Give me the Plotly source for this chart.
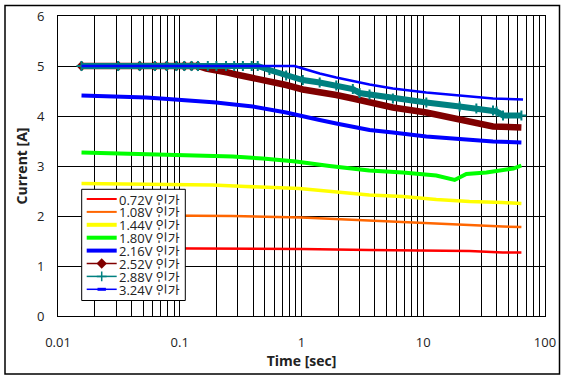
import plotly.graph_objects as go

# ---------------- data ----------------
series_names = ["0.72V 인가", "1.08V 인가", "1.44V 인가", "1.80V 인가",
                "2.16V 인가", "2.52V 인가", "2.88V 인가", "3.24V 인가"]

time_072 = [0.0156, 0.1, 0.5, 1.0, 3.6, 12.8, 24, 45, 64]
cur_072 = [1.36, 1.35, 1.35, 1.34, 1.32, 1.30, 1.30, 1.27, 1.27]

time_108 = [0.0156, 0.1, 0.27, 1.0, 3.6, 6.8, 12.8, 24, 45, 64]
cur_108 = [2.02, 2.01, 2.00, 1.97, 1.91, 1.87, 1.84, 1.81, 1.79, 1.78]

time_144 = [0.0156, 0.072, 0.185, 0.35, 0.66, 0.96, 3.6, 6.8, 12.8, 24, 45, 64]
cur_144 = [2.65, 2.63, 2.62, 2.59, 2.57, 2.55, 2.42, 2.39, 2.33, 2.29, 2.27, 2.25]

time_180 = [0.0156, 0.038, 0.082, 0.136, 0.272, 0.48, 0.90, 1.7, 3.6, 6.8,
            12.8, 18.1, 22.6, 33, 45, 55, 64]
cur_180 = [3.27, 3.25, 3.23, 3.21, 3.19, 3.15, 3.09, 3.00, 2.91, 2.87,
           2.81, 2.72, 2.84, 2.87, 2.92, 2.95, 3.01]

time_216 = [0.0156, 0.038, 0.053, 0.070, 0.099, 0.132, 0.199, 0.256, 0.398,
            0.748, 1.025, 1.41, 1.93, 2.64, 3.62, 5.63, 10.6, 19.9, 37.4, 64]
cur_216 = [4.41, 4.39, 4.37, 4.35, 4.33, 4.31, 4.27, 4.24, 4.19,
           4.07, 3.99, 3.92, 3.85, 3.79, 3.72, 3.67, 3.59, 3.54, 3.49, 3.47]

time_252 = [0.0156, 0.0312, 0.0469, 0.0625, 0.0781, 0.0938, 0.109, 0.125, 0.141,
            0.165, 0.212, 0.248, 0.29, 0.398, 0.545, 0.748, 1.025, 1.41, 1.93,
            2.64, 3.62, 5.63, 10.6, 19.9, 27.3, 37.4, 64]
cur_252 = [5.0, 5.0, 5.0, 5.0, 5.0, 5.0, 5.0, 5.0, 5.0,
           4.95, 4.92, 4.87, 4.83, 4.77, 4.70, 4.62, 4.53, 4.49, 4.42,
           4.35, 4.27, 4.17, 4.07, 3.93, 3.83, 3.79, 3.77]
early_252 = 9  # isolated diamond markers visible before the band

time_288 = [0.0156, 0.0312, 0.0469, 0.0625, 0.0781, 0.0938, 0.109, 0.125, 0.141,
            0.17, 0.2, 0.24, 0.28, 0.33, 0.39, 0.437, 0.545, 0.748, 1.025, 1.41,
            1.93, 2.64, 3.0, 3.62, 5.63, 10.6, 19.9, 27.3, 37.4, 40, 45.2, 64]
cur_288 = [5.0, 5.0, 5.0, 5.0, 5.0, 5.0, 5.0, 5.0, 5.0,
           5.0, 5.0, 5.0, 5.0, 5.0, 5.0, 5.0, 4.92, 4.81, 4.72, 4.67,
           4.61, 4.54, 4.46, 4.43, 4.35, 4.27, 4.19, 4.15, 4.11, 4.09, 4.01, 4.01]

time_324 = [0.0156, 0.875, 1.025, 1.41, 1.93, 2.64, 3.62, 5.63, 10.6, 19.9, 37.4, 66]
cur_324 = [5.0, 5.0, 4.95, 4.85, 4.77, 4.70, 4.63, 4.55, 4.47, 4.41, 4.35, 4.33]

x_tick_vals = [0.01, 0.1, 1, 10, 100]
x_tick_text = ["0.01", "0.1", "1", "10", "100"]
y_tick_vals = [0, 1, 2, 3, 4, 5, 6]

# ---------------- styling ----------------
W, H = 568, 381
ML, MR, MT, MB = 58, 23, 16, 65
PW, PH = W - ML - MR, H - MT - MB

colors = ["#FF0000", "#FF6600", "#FFFF00", "#00FF00",
          "#0000FF", "#800000", "#008080", "#0000FF"]
widths = [2.5, 2.5, 3.5, 4, 4, 6.5, 6, 2.5]
legend_widths = [2, 2, 4, 4, 4, 1.5, 1.5, 1.5]

FONT = "Open Sans, Noto Sans CJK KR, sans-serif"
TXT = "#222222"

def px_x(px):
    return (px - ML) / PW

def px_y(py):
    return (MT + PH - py) / PH

all_times = [time_072, time_108, time_144, time_180, time_216, time_252, time_288, time_324]
all_curs = [cur_072, cur_108, cur_144, cur_180, cur_216, cur_252, cur_288, cur_324]

fig = go.Figure()

for i, (t, c) in enumerate(zip(all_times, all_curs)):
    fig.add_trace(go.Scatter(x=t, y=c, mode="lines", name=series_names[i],
                             line=dict(color=colors[i], width=widths[i]),
                             showlegend=False, hoverinfo="skip"))
    if i == 5:
        fig.add_trace(go.Scatter(x=t[:early_252], y=c[:early_252], mode="markers",
                                 marker=dict(symbol="diamond", size=8, color=colors[i]),
                                 showlegend=False, hoverinfo="skip"))
    if i == 6:
        fig.add_trace(go.Scatter(x=t, y=c, mode="markers",
                                 marker=dict(symbol="cross-thin", size=7,
                                             line=dict(color=colors[i], width=2)),
                                 showlegend=False, hoverinfo="skip"))

# ---------------- custom legend (drawn on an overlay axis in plot-fraction units) -----
box_l, box_r, box_t, box_b = 81.7, 185.3, 189.3, 300.5
row0, row_step = 199.0, 12.9
samp_l, samp_r, text_x = 86.7, 116.7, 117.5

fig.add_trace(go.Scatter(
    x=[px_x(box_l), px_x(box_r), px_x(box_r), px_x(box_l), px_x(box_l)],
    y=[px_y(box_b), px_y(box_b), px_y(box_t), px_y(box_t), px_y(box_b)],
    mode="lines", fill="toself", fillcolor="white",
    line=dict(color="black", width=1), xaxis="x2", yaxis="y2",
    showlegend=False, hoverinfo="skip"))

for i, name in enumerate(series_names):
    yc = px_y(row0 + i * row_step)
    fig.add_trace(go.Scatter(x=[px_x(samp_l), px_x(samp_r)], y=[yc, yc], mode="lines",
                             line=dict(color=colors[i], width=legend_widths[i]),
                             xaxis="x2", yaxis="y2", showlegend=False, hoverinfo="skip"))
    xm = px_x((samp_l + samp_r) / 2)
    if i == 5:
        fig.add_trace(go.Scatter(x=[xm], y=[yc], mode="markers",
                                 marker=dict(symbol="diamond", size=8, color=colors[i]),
                                 xaxis="x2", yaxis="y2", showlegend=False, hoverinfo="skip"))
    elif i == 6:
        fig.add_trace(go.Scatter(x=[xm], y=[yc], mode="markers",
                                 marker=dict(symbol="cross-thin", size=7,
                                             line=dict(color=colors[i], width=1.5)),
                                 xaxis="x2", yaxis="y2", showlegend=False, hoverinfo="skip"))
    elif i == 7:
        fig.add_trace(go.Scatter(x=[xm], y=[yc], mode="markers",
                                 marker=dict(symbol="line-ew", size=6,
                                             line=dict(color=colors[i], width=3)),
                                 xaxis="x2", yaxis="y2", showlegend=False, hoverinfo="skip"))
    fig.add_annotation(x=px_x(text_x), y=yc, xref="paper", yref="paper",
                       text=name, showarrow=False, xanchor="left", yanchor="middle",
                       height=11, borderpad=0, valign="middle",
                       font=dict(family=FONT, size=13, color=TXT))

# minor gridlines positions for log axis
minor_vals = [k * 10.0 ** d for d in range(-2, 2) for k in range(2, 10)]

fig.update_layout(
    width=W, height=H,
    margin=dict(l=ML, r=MR, t=MT, b=MB, pad=0, autoexpand=False),
    paper_bgcolor="white", plot_bgcolor="white",
    font=dict(family=FONT, size=13, color=TXT),
    showlegend=False,
    xaxis=dict(type="log", range=[-2, 2], tickvals=x_tick_vals, ticktext=x_tick_text,
               automargin=False,
               showgrid=True, gridcolor="black", gridwidth=1,
               minor=dict(tickvals=minor_vals, showgrid=True, gridcolor="black", gridwidth=1),
               showline=True, linecolor="black", linewidth=1, mirror=True,
               ticks="", ticklabelstandoff=14, zeroline=False,
               tickfont=dict(size=13, color=TXT),
               title=dict(text="<b>Time [sec]</b>", standoff=6,
                          font=dict(size=14, color=TXT))),
    yaxis=dict(range=[0, 6], tickvals=y_tick_vals, automargin=False,
               showgrid=True, gridcolor="black", gridwidth=1,
               showline=True, linecolor="black", linewidth=1, mirror=True,
               ticks="", ticklabelstandoff=10, zeroline=False,
               tickfont=dict(size=13, color=TXT),
               title=dict(text="<b>Current [A]</b>", standoff=6,
                          font=dict(size=14, color=TXT))),
    xaxis2=dict(overlaying="x", range=[0, 1], visible=False, fixedrange=True,
                automargin=False),
    yaxis2=dict(overlaying="y", range=[0, 1], visible=False, fixedrange=True,
                automargin=False),
    shapes=[dict(type="rect", xref="paper", yref="paper",
                 x0=px_x(5), x1=px_x(559.5), y0=px_y(374), y1=px_y(5.5),
                 line=dict(color="black", width=1.5), fillcolor="rgba(0,0,0,0)",
                 layer="above")],
)

fig.write_html("out.html", config={"displayModeBar": False},
               post_script="document.body.style.margin='0';")
